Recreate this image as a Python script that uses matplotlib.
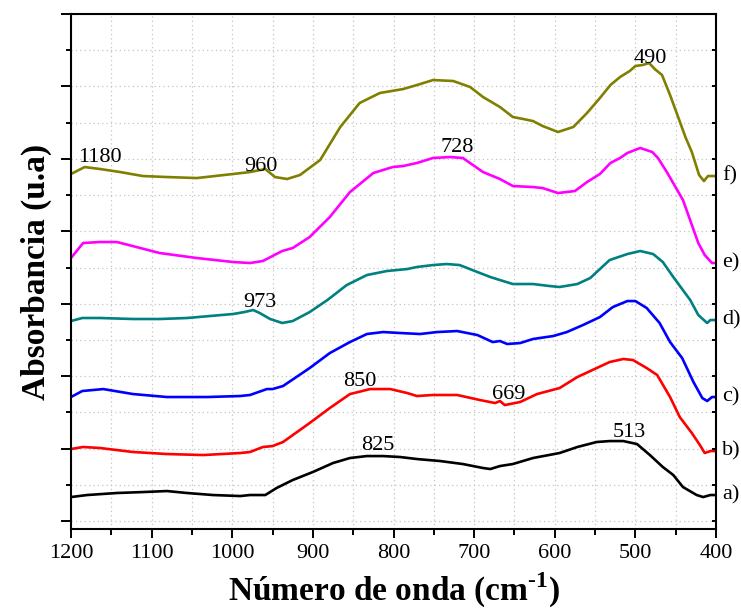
import matplotlib
matplotlib.use("Agg")
import matplotlib.pyplot as plt
from matplotlib.ticker import MultipleLocator, NullFormatter

plt.rcParams["font.family"] = ["Liberation Serif", "DejaVu Serif"]
plt.rcParams["mathtext.fontset"] = "custom"
plt.rcParams["mathtext.rm"] = "Liberation Serif"
plt.rcParams["mathtext.bf"] = "Liberation Serif:bold"

# FTIR spectra (wavenumber in cm-1, absorbance in arbitrary offset units)
wn_a = [1200, 1180, 1143, 1111, 1081, 1056, 1024, 990, 978, 959, 945, 925, 900, 875, 854, 833, 813,
        792, 771, 742, 714, 689, 680, 668, 652, 627, 594, 572, 548, 532, 515, 498, 482, 466, 453,
        441, 424, 416, 407, 400]
abs_a = [0.331, 0.359, 0.387, 0.400, 0.414, 0.387, 0.359, 0.345, 0.359, 0.359, 0.456, 0.566, 0.677,
         0.801, 0.870, 0.897, 0.897, 0.884, 0.856, 0.828, 0.787, 0.732, 0.718, 0.759, 0.787, 0.870,
         0.939, 1.022, 1.091, 1.104, 1.104, 1.063, 0.911, 0.746, 0.635, 0.469, 0.359, 0.331, 0.359,
         0.359]

wn_b = [1200, 1185, 1164, 1123, 1081, 1036, 990, 978, 962, 950, 937, 904, 879, 854, 829, 804, 783,
        771, 751, 721, 693, 674, 668, 662, 643, 622, 594, 572, 548, 532, 515, 503, 486, 473, 457,
        445, 430, 420, 414, 407, 400]
abs_b = [0.994, 1.022, 1.008, 0.953, 0.925, 0.911, 0.939, 0.953, 1.022, 1.035, 1.091, 1.353, 1.560,
         1.753, 1.822, 1.822, 1.767, 1.726, 1.740, 1.740, 1.671, 1.629, 1.657, 1.601, 1.643, 1.753,
         1.836, 1.988, 2.112, 2.195, 2.237, 2.223, 2.112, 2.016, 1.712, 1.436, 1.215, 1.049, 0.939,
         0.966, 0.966]

wn_c = [1200, 1186, 1160, 1123, 1081, 1031, 990, 978, 957, 950, 937, 904, 879, 854, 833, 813, 792,
        767, 746, 721, 696, 677, 668, 659, 643, 627, 602, 585, 565, 544, 528, 510, 500, 486, 470,
        457, 442, 428, 417, 411, 405, 400]
abs_c = [1.712, 1.795, 1.822, 1.753, 1.712, 1.712, 1.726, 1.740, 1.822, 1.822, 1.864, 2.112, 2.319,
         2.471, 2.582, 2.609, 2.596, 2.582, 2.609, 2.623, 2.568, 2.471, 2.485, 2.444, 2.457, 2.513,
         2.554, 2.609, 2.706, 2.816, 2.954, 3.037, 3.037, 2.941, 2.734, 2.471, 2.250, 1.919, 1.698,
         1.657, 1.712, 1.712]

wn_d = [1200, 1186, 1164, 1123, 1090, 1056, 999, 985, 974, 966, 953, 938, 925, 904, 882, 858, 833,
        808, 783, 771, 751, 734, 718, 696, 680, 668, 652, 627, 606, 594, 572, 556, 532, 510, 494,
        478, 466, 453, 432, 422, 411, 407, 400]
abs_d = [2.761, 2.803, 2.803, 2.789, 2.789, 2.803, 2.858, 2.885, 2.913, 2.872, 2.789, 2.734, 2.761,
         2.885, 3.051, 3.258, 3.396, 3.452, 3.479, 3.507, 3.534, 3.548, 3.534, 3.438, 3.369, 3.327,
         3.272, 3.272, 3.244, 3.231, 3.272, 3.355, 3.603, 3.686, 3.728, 3.686, 3.576, 3.369, 3.051,
         2.844, 2.734, 2.775, 2.775]

wn_e = [1200, 1185, 1164, 1143, 1114, 1090, 1044, 999, 978, 962, 938, 925, 904, 879, 854, 825, 801,
        788, 771, 751, 730, 714, 689, 668, 652, 627, 615, 596, 575, 560, 544, 531, 519, 510, 494,
        479, 472, 461, 441, 422, 414, 405, 400]
abs_e = [3.631, 3.838, 3.852, 3.852, 3.769, 3.700, 3.631, 3.576, 3.562, 3.590, 3.728, 3.769, 3.921,
         4.197, 4.542, 4.805, 4.887, 4.901, 4.943, 5.012, 5.025, 5.012, 4.818, 4.722, 4.625, 4.611,
         4.597, 4.528, 4.556, 4.680, 4.791, 4.943, 5.012, 5.081, 5.150, 5.094, 5.012, 4.818, 4.432,
         3.838, 3.672, 3.562, 3.562]

wn_f = [1200, 1183, 1164, 1139, 1111, 1081, 1044, 999, 978, 959, 947, 932, 916, 891, 866, 842, 817,
        788, 771, 751, 726, 705, 689, 668, 652, 639, 627, 615, 596, 577, 560, 544, 531, 519, 507,
        500, 491, 483, 476, 467, 457, 447, 438, 430, 421, 415, 410, 400]
abs_f = [4.791, 4.887, 4.860, 4.818, 4.763, 4.749, 4.735, 4.791, 4.818, 4.860, 4.749, 4.722, 4.777,
         4.984, 5.440, 5.771, 5.909, 5.964, 6.019, 6.088, 6.075, 5.992, 5.854, 5.716, 5.578, 5.550,
         5.522, 5.453, 5.371, 5.440, 5.633, 5.840, 6.019, 6.130, 6.213, 6.282, 6.296, 6.323, 6.240,
         6.158, 5.881, 5.578, 5.302, 5.094, 4.777, 4.694, 4.763, 4.763]

series_labels = ["a)", "b)", "c)", "d)", "e)", "f)"]
series_colors = ["#000000", "#ff0000", "#0000ff", "#008080", "#ff00ff", "#808000"]

# Band labels (cm-1) and where their text sits (x centre, baseline)
band_labels = ["1180", "960", "728", "490", "973", "850", "669", "825", "513"]
band_text_x = [1164, 965, 721, 482, 966, 842, 657, 820, 507]
band_text_y = [4.956, 4.832, 5.094, 6.323, 2.954, 1.864, 1.684, 0.980, 1.160]

fig = plt.figure(figsize=(7.41, 6.11), dpi=100)
ax = fig.add_axes([0.0958, 0.1342, 0.8705, 0.8429])

wns = [wn_a, wn_b, wn_c, wn_d, wn_e, wn_f]
vals = [abs_a, abs_b, abs_c, abs_d, abs_e, abs_f]
for wn, v, col, lab in zip(wns, vals, series_colors, series_labels):
    ax.plot(wn, v, color=col, lw=1.9, solid_joinstyle="round")
    ax.text(1.009, v[-1], lab, transform=ax.get_yaxis_transform(), ha="left", va="center",
            fontsize=16, clip_on=False)

for lab, tx, ty in zip(band_labels, band_text_x, band_text_y):
    ax.text(tx, ty, lab, ha="center", va="baseline", fontsize=16)

ax.set_xlim(1200, 400)
ax.set_ylim(-0.11, 7.0)
ax.xaxis.set_major_locator(MultipleLocator(100))
ax.xaxis.set_minor_locator(MultipleLocator(50))
ax.yaxis.set_major_locator(MultipleLocator(1))
ax.yaxis.set_minor_locator(MultipleLocator(0.5))
ax.yaxis.set_major_formatter(NullFormatter())

ax.grid(True, which="both", color="#c4c4c4", linestyle=(0, (1, 2.5)), linewidth=0.9)
ax.set_axisbelow(True)

for s in ax.spines.values():
    s.set_linewidth(1.5)

ax.tick_params(axis="x", which="major", direction="out", length=6.5, width=1.4, labelsize=16,
               pad=4, top=False)
ax.tick_params(axis="x", which="minor", direction="out", length=4, width=1.4, top=False)
ax.tick_params(axis="y", which="major", direction="out", length=7, width=1.4, right=False)
ax.tick_params(axis="y", which="minor", direction="out", length=3.6, width=1.4, right=False)

# inward ticks on the right-hand spine
ax_r = ax.twinx()
ax_r.set_ylim(ax.get_ylim())
ax_r.yaxis.set_major_locator(MultipleLocator(0.5))
ax_r.yaxis.set_major_formatter(NullFormatter())
ax_r.tick_params(axis="y", which="major", direction="in", length=3, width=1.4)
for s in ax_r.spines.values():
    s.set_visible(False)

ax.set_xlabel("Número de onda (cm$^{\\mathbf{\\text{-}1}}$)", fontsize=24, fontweight="bold",
              labelpad=6)
ax.set_ylabel("Absorbancia (u.a)", fontsize=24, fontweight="bold", labelpad=3)

fig.savefig("out.png", dpi=100)
